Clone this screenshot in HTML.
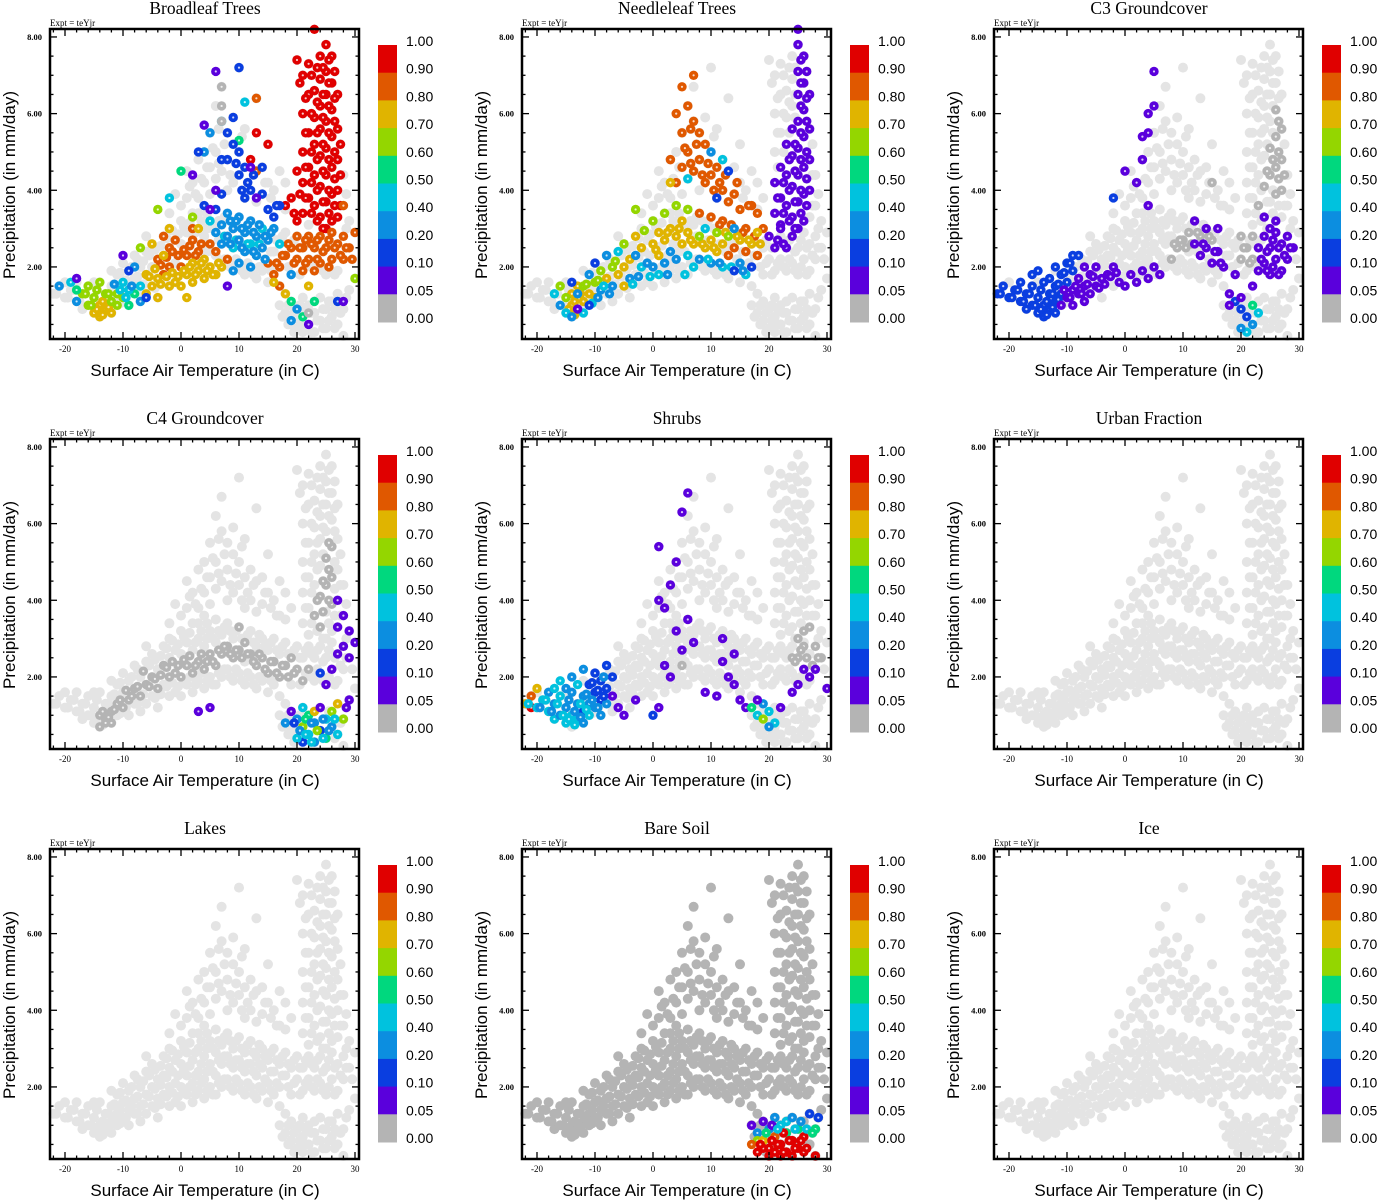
<!DOCTYPE html>
<html><head><meta charset="utf-8"><style>html,body{margin:0;padding:0;background:#fff}svg{display:block}</style></head>
<body>
<svg id="fig" xmlns="http://www.w3.org/2000/svg" width="1378" height="1200" viewBox="0 0 1378 1200"></svg>
<script>
const titles=["Broadleaf Trees","Needleleaf Trees","C3 Groundcover","C4 Groundcover","Shrubs","Urban Fraction","Lakes","Bare Soil","Ice"];
const xTicks=[-20,-10,0,10,20,30];
const yTicks=[2,4,6,8];
const yTickLabels=["2.00","4.00","6.00","8.00"];
const cbLabels=["1.00","0.90","0.80","0.70","0.60","0.50","0.40","0.20","0.10","0.05","0.00"];
const binColors=["#b4b4b4","#5a00dc","#0a3ee0","#0c8ee0","#00c2de","#00d87e","#94d600","#e0b400","#e05800","#e00000"];
const basePoints=[[-22,1.3],[-21,1.5],[-20,1.2],[-19,1.4],[-18,1.6],[-18,1.1],[-17,1.3],[-17,0.9],[-16,1.5],[-16,1.0],[-15,1.2],[-15,0.8],[-14,1.6],[-14,1.0],[-14,0.7],[-13,1.3],[-13,0.9],[-12,1.5],[-12,1.1],[-12,0.8],[-11,1.8],[-11,1.3],[-11,1.0],[-10,2.1],[-10,1.6],[-10,1.2],[-9,1.9],[-9,1.4],[-9,1.0],[-8,2.3],[-8,1.7],[-8,1.3],[-7,2.0],[-7,1.5],[-7,1.1],[-6,2.4],[-6,1.8],[-6,1.3],[-5,2.6],[-5,2.0],[-5,1.5],[-4,2.2],[-4,1.7],[-4,1.2],[-3,2.8],[-3,2.3],[-3,1.8],[-2,3.0],[-2,2.5],[-2,2.0],[-2,1.5],[-1,2.7],[-1,2.1],[-1,1.6],[0,3.2],[0,2.6],[0,2.0],[0,1.5],[1,2.9],[1,2.3],[1,1.8],[2,3.4],[2,2.7],[2,2.1],[2,1.6],[3,3.0],[3,2.4],[3,1.9],[4,3.6],[4,2.8],[4,2.2],[4,1.7],[5,3.2],[5,2.6],[5,2.0],[6,3.5],[6,2.9],[6,2.3],[6,1.8],[7,3.1],[7,2.6],[7,2.0],[8,3.4],[8,2.8],[8,2.2],[9,3.0],[9,2.5],[9,1.9],[10,3.3],[10,2.7],[10,2.1],[11,2.9],[11,2.4],[11,1.8],[12,3.2],[12,2.6],[12,2.0],[13,2.8],[13,2.3],[13,1.7],[14,3.0],[14,2.5],[14,1.9],[15,2.7],[15,2.1],[15,1.6],[16,3.0],[16,2.4],[16,1.8],[17,2.6],[17,2.0],[17,1.5],[18,2.9],[18,2.3],[18,1.3],[19,2.5],[19,1.8],[20,2.8],[20,2.2],[21,2.5],[21,1.9],[22,2.8],[22,2.2],[23,2.5],[23,1.9],[24,2.8],[24,2.1],[25,2.5],[25,1.8],[26,2.9],[26,2.2],[27,2.6],[27,1.9],[28,2.8],[28,2.2],[29,2.5],[30,2.9],[30,1.7],
[1,4.5],[1,3.8],[2,4.2],[3,4.8],[3,3.8],[4,5.0],[4,4.2],[5,5.5],[5,4.6],[5,3.9],[6,6.2],[6,5.0],[6,4.3],[7,6.7],[7,5.8],[7,4.5],[8,5.5],[8,4.8],[8,4.0],[9,5.9],[9,5.2],[9,4.2],[10,7.2],[10,5.0],[10,4.4],[11,5.6],[11,4.6],[11,3.8],[12,4.8],[12,4.0],[13,6.4],[13,4.5],[13,3.7],[14,4.6],[14,3.9],[15,5.2],[15,4.2],[16,4.0],[17,4.5],[17,3.6],[18,4.2],[18,3.5],[19,3.8],
[20,7.4],[21,7.0],[21,6.0],[21,5.0],[21,4.2],[21,3.4],[22,7.3],[22,6.5],[22,5.5],[22,4.6],[22,3.8],[22,3.1],[23,6.6],[23,5.9],[23,5.2],[23,4.4],[23,3.6],[24,7.5],[24,6.9],[24,6.2],[24,5.6],[24,4.9],[24,4.1],[24,3.3],[25,7.8],[25,7.1],[25,6.5],[25,5.8],[25,5.1],[25,4.4],[25,3.7],[25,3.0],[26,7.5],[26,6.8],[26,6.1],[26,5.4],[26,4.6],[26,3.9],[26,3.2],[27,6.5],[27,5.6],[27,4.8],[27,4.0],[27,3.3],[28,4.4],[28,3.6],[29,3.2],
[17,1.0],[18,0.8],[19,1.1],[19,0.6],[20,0.9],[20,0.4],[21,1.2],[21,0.7],[21,0.3],[22,1.0],[22,0.5],[23,1.1],[23,0.8],[23,0.3],[24,1.2],[24,0.6],[25,0.9],[25,0.4],[26,1.1],[26,0.7],[27,1.3],[27,0.5],[28,0.9],[28,0.2],[29,1.4],[-20,1.6],[-15,1.6],[-12,1.9],[-6,2.8],[0,3.6],[3,3.4],[-1,3.9],[-2,3.4]];
const basePoints2=[[-21.5,1.3],[-19.5,1.2],[-18.5,1.4],[-17.5,1.1],[-16.5,1.3],[-15.5,1.0],[-14.5,1.4],[-14.5,0.9],[-13.5,1.1],[-13.5,0.75],[-12.5,1.3],[-12.5,0.95],[-11.5,1.55],[-11.5,1.15],[-10.5,1.85],[-10.5,1.4],[-10.5,1.05],[-9.5,1.65],[-9.5,1.2],[-8.5,2.0],[-8.5,1.5],[-7.5,2.2],[-7.5,1.75],[-7.5,1.3],[-6.5,2.15],[-6.5,1.55],[-5.5,2.3],[-5.5,1.75],[-4.5,2.45],[-4.5,1.95],[-4.5,1.45],[-3.5,2.55],[-3.5,2.05],[-3.5,1.55],[-2.5,2.75],[-2.5,2.25],[-2.5,1.75],[-1.5,2.95],[-1.5,2.4],[-1.5,1.85],[-0.5,2.85],[-0.5,2.3],[-0.5,1.75],[0.5,3.05],[0.5,2.45],[0.5,1.9],[1.5,3.15],[1.5,2.55],[1.5,2.0],[2.5,2.9],[2.5,2.3],[2.5,1.8],[3.5,3.2],[3.5,2.6],[3.5,2.1],[4.5,3.4],[4.5,3.0],[4.5,2.4],[4.5,1.9],[5.5,3.0],[5.5,2.4],[5.5,1.8],[6.5,3.2],[6.5,2.7],[6.5,2.1],[7.5,3.3],[7.5,2.8],[7.5,2.2],[8.5,3.2],[8.5,2.6],[8.5,2.0],[9.5,3.2],[9.5,2.7],[9.5,2.2],[10.5,3.0],[10.5,2.5],[10.5,1.9],[11.5,3.1],[11.5,2.6],[11.5,2.1],[12.5,2.9],[12.5,2.4],[12.5,1.8],[13.5,3.1],[13.5,2.6],[13.5,2.0],[14.5,2.8],[14.5,2.2],[15.5,2.9],[15.5,2.4],[15.5,1.9],[16.5,2.7],[16.5,2.1],[17.5,2.8],[17.5,2.3],[18.5,2.6],[18.5,2.0],[19.5,2.7],[19.5,2.1],[20.5,2.5],[20.5,1.8],[21.5,2.7],[21.5,2.1],[22.5,2.6],[22.5,2.0],[23.5,2.7],[23.5,2.2],[24.5,2.4],[24.5,1.9],[25.5,2.7],[25.5,2.0],[26.5,2.5],[26.5,1.8],[27.5,2.3],[28.5,2.5],[29.5,2.2],
[2.5,3.9],[4.5,4.6],[6.5,4.7],[7.5,5.2],[8.5,4.4],[9.5,4.7],[10.5,4.0],[11.5,4.2],[12.5,4.4],[14.5,4.2],[16.5,3.6],[5.5,5.1],[6.5,5.6],[10.5,5.4],[3.5,4.3],[1.5,4.1],[15.5,3.8],
[20.5,6.8],[21.5,6.4],[21.5,5.5],[21.5,4.6],[21.5,3.8],[22.5,7.0],[22.5,6.0],[22.5,5.0],[22.5,4.2],[22.5,3.4],[23.5,7.2],[23.5,6.3],[23.5,5.5],[23.5,4.8],[23.5,4.0],[23.5,3.2],[24.5,7.2],[24.5,6.5],[24.5,5.9],[24.5,5.2],[24.5,4.5],[24.5,3.7],[24.5,3.0],[25.5,7.4],[25.5,6.8],[25.5,6.2],[25.5,5.5],[25.5,4.8],[25.5,4.0],[25.5,3.4],[26.5,7.1],[26.5,6.4],[26.5,5.8],[26.5,5.0],[26.5,4.3],[26.5,3.6],[27.5,5.2],[27.5,4.4],[27.5,3.6],[28.5,3.9],[28.5,3.0],
[17.5,0.7],[18.5,1.0],[18.5,0.5],[19.5,0.8],[19.5,0.3],[20.5,1.0],[20.5,0.6],[21.5,0.9],[21.5,0.5],[22.5,0.8],[22.5,0.3],[23.5,0.6],[24.5,0.9],[24.5,0.4],[25.5,1.1],[25.5,0.6],[26.5,0.9],[26.5,0.4],[27.5,0.8],[28.5,1.2]];
const broadleaf=[[20,7.4,9],[21,7.0,9],[21,6.0,9],[21,5.0,9],[21,4.2,9],[21,3.4,9],[22,7.3,9],[22,6.5,9],[22,5.5,9],[22,4.6,9],[22,3.8,9],[23,6.6,9],[23,5.9,9],[23,5.2,9],[23,4.4,9],[23,3.6,9],[24,7.5,9],[24,6.9,9],[24,6.2,9],[24,5.6,9],[24,4.9,9],[24,4.1,9],[24,3.3,9],[25,7.8,9],[25,7.1,9],[25,6.5,9],[25,5.8,9],[25,5.1,9],[25,4.4,9],[25,3.7,9],[25,3.0,9],[26,7.5,9],[26,6.8,9],[26,6.1,9],[26,5.4,9],[26,4.6,9],[26,3.9,9],[26,3.2,9],[27,6.5,9],[27,5.6,9],[27,4.8,9],[27,4.0,9],[27,3.3,9],[20,4.5,9],[19,3.8,9],[20,3.2,9],[18,3.6,9],[23,8.2,9],[13,5.5,9],[15,5.2,9],[12,4.8,9],
[21.5,6.4,9],[21.5,5.5,9],[21.5,4.6,9],[21.5,3.8,9],[22.5,7.0,9],[22.5,6.0,9],[22.5,5.0,9],[22.5,4.2,9],[22.5,3.4,9],[23.5,7.2,9],[23.5,6.3,9],[23.5,5.5,9],[23.5,4.8,9],[23.5,4.0,9],[23.5,3.2,9],[24.5,7.2,9],[24.5,6.5,9],[24.5,5.9,9],[24.5,5.2,9],[24.5,4.5,9],[24.5,3.7,9],[24.5,3.0,9],[25.5,7.4,9],[25.5,6.8,9],[25.5,6.2,9],[25.5,5.5,9],[25.5,4.8,9],[25.5,4.0,9],[25.5,3.4,9],[26.5,7.1,9],[26.5,6.4,9],[26.5,5.8,9],[26.5,5.0,9],[26.5,4.3,9],[26.5,3.6,9],[27.5,5.2,9],[27.5,4.4,9],[27.5,3.6,9],[20.5,6.8,9],[20.5,3.9,9],[19.5,3.4,9],
[1,2.3,8],[2,2.7,8],[3,2.4,8],[0,2.0,8],[-3,1.8,8],[-2,2.0,8],[-4,2.2,8],[5,2.6,8],[6,2.4,8],[8,2.2,8],[15,2.1,8],[16,1.8,8],[17,2.0,8],[18,2.3,8],[19,2.5,8],[20,2.8,8],[20,2.2,8],[21,2.5,8],[21,1.9,8],[22,2.8,8],[22,2.2,8],[23,2.5,8],[23,1.9,8],[24,2.8,8],[24,2.1,8],[25,2.5,8],[26,2.9,8],[26,2.2,8],[27,2.6,8],[28,2.8,8],[28,2.2,8],[29,2.5,8],[30,2.9,8],[17,1.5,8],[13,4.5,8],[2,3.0,8],[-1,2.7,8],[-3,2.8,8],[-2,2.5,8],[13,6.4,8],[28,3.6,8],
[-1.5,2.4,8],[-0.5,2.3,8],[0.5,2.45,8],[1.5,2.55,8],[2.5,2.3,8],[3.5,2.6,8],[-2.5,2.25,8],[-3.5,2.05,8],[16.5,2.1,8],[17.5,2.3,8],[18.5,2.6,8],[19.5,2.1,8],[20.5,2.5,8],[21.5,2.1,8],[22.5,2.6,8],[23.5,2.2,8],[24.5,2.4,8],[25.5,2.0,8],[26.5,2.5,8],[27.5,2.3,8],[28.5,2.5,8],[29.5,2.2,8],[21.5,2.7,8],[23.5,2.7,8],[25.5,2.7,8],
[-14,1.0,7],[-13,0.9,7],[-12,0.8,7],[-14,0.7,7],[-15,0.8,7],[-6,1.8,7],[-5,1.5,7],[-4,1.7,7],[-3,2.3,7],[-1,1.6,7],[0,1.5,7],[1,1.8,7],[2,2.1,7],[2,1.6,7],[3,1.9,7],[4,1.7,7],[4,2.2,7],[5,2.0,7],[6,1.8,7],[7,2.0,7],[-5,2.6,7],[-2,1.5,7],[-6,1.3,7],[18,1.3,7],[16,1.6,7],[22,1.5,7],[1,1.2,7],[-4,1.2,7],[-2,3.0,7],[3,3.0,7],
[-13.5,1.1,7],[-13.5,0.75,7],[-14.5,0.9,7],[-12.5,0.95,7],[-4.5,1.95,7],[-3.5,1.55,7],[-2.5,1.75,7],[-1.5,1.85,7],[-0.5,1.75,7],[0.5,1.9,7],[1.5,2.0,7],[2.5,1.8,7],[3.5,2.1,7],[4.5,1.9,7],[5.5,1.8,7],[6.5,2.1,7],[-5.5,1.75,7],
[-16,1.5,6],[-15,1.2,6],[-14,1.6,6],[-13,1.3,6],[-12,1.1,6],[-11,1.3,6],[-17,1.3,6],[-16,1.0,6],[-11,1.0,6],[-7,2.5,6],[-10,1.2,6],[-4,3.5,6],[2,3.3,6],[30,1.7,6],[-14.5,1.4,6],[-15.5,1.0,6],[-12.5,1.3,6],[-16.5,1.3,6],
[-18,1.4,5],[-9,1.0,5],[-8,1.3,5],[0,4.5,5],[10,5.3,5],[19,1.1,5],[21,0.7,5],[23,1.1,5],
[-19,1.6,4],[-10,1.6,4],[-9,1.4,4],[-7,1.5,4],[-2,3.8,4],[7,5.8,4],[11,6.3,4],[9,2.5,4],[12,2.6,4],[14,3.0,4],[5,3.2,4],[17,2.6,4],[7.5,2.8,4],[9.5,2.7,4],[11.5,2.6,4],[13.5,2.6,4],[-10.5,1.4,4],[-9.5,1.2,4],
[-21,1.5,3],[-18,1.1,3],[-8,2.0,3],[-7,1.1,3],[4,5.0,3],[5,5.5,3],[8,3.4,3],[8,2.8,3],[9,3.0,3],[10,3.3,3],[10,2.7,3],[11,2.9,3],[12,3.2,3],[13,2.8,3],[14,2.5,3],[15,2.7,3],[16,3.0,3],[10,2.1,3],[11,2.4,3],[6,2.9,3],[7,3.1,3],[9,1.9,3],[12,2.0,3],[13,2.3,3],[19,1.8,3],[20,0.9,3],[19,0.6,3],[7,2.6,3],[8.5,3.2,3],[9.5,3.2,3],[10.5,3.0,3],[11.5,3.1,3],[12.5,2.9,3],[13.5,3.1,3],[14.5,2.8,3],[15.5,2.9,3],[8.5,2.6,3],[10.5,2.5,3],[12.5,2.4,3],[14.5,2.2,3],[-11.5,1.55,3],[-8.5,1.5,3],
[-9,1.9,2],[-6,1.2,2],[4,3.6,2],[6,3.5,2],[7,3.9,2],[8,4.8,2],[8,5.5,2],[9,5.2,2],[9,5.9,2],[10,7.2,2],[10,5.0,2],[10,4.4,2],[11,4.6,2],[11,3.8,2],[12,4.0,2],[14,3.9,2],[14,4.6,2],[15,3.5,2],[16,3.3,2],[17,3.6,2],[3,5.0,2],[7,4.8,2],[27,1.1,2],[9.5,4.7,2],[10.5,4.0,2],[11.5,4.2,2],[12.5,4.4,2],[16.5,3.6,2],
[-18,1.7,1],[-10,2.3,1],[4,5.7,1],[6,7.1,1],[6,4.0,1],[2,4.4,1],[5,3.5,1],[12,4.6,1],[13,3.8,1],[22,0.5,1],[28,1.1,1],[8,1.5,1],
[7,6.7,0],[7,6.2,0],[7,5.8,0],[22,0.8,0]];
const needleleaf=[[21,4.2,1],[21,3.4,1],[22,4.6,1],[22,3.8,1],[22,3.1,1],[23,4.4,1],[23,3.6,1],[24,4.9,1],[24,4.1,1],[24,3.3,1],[25,7.8,1],[25,7.1,1],[25,6.5,1],[25,5.8,1],[25,5.1,1],[25,4.4,1],[25,3.7,1],[25,3.0,1],[26,7.5,1],[26,6.8,1],[26,6.1,1],[26,5.4,1],[26,4.6,1],[26,3.9,1],[26,3.2,1],[27,6.5,1],[27,5.6,1],[27,4.8,1],[27,4.0,1],[24,5.6,1],[23,5.2,1],[22,3.0,1],[20,2.8,1],[21,2.5,1],[23,2.5,1],[24,2.8,1],[25,8.2,1],
[22.5,4.2,1],[22.5,3.4,1],[23.5,4.8,1],[23.5,4.0,1],[23.5,3.2,1],[24.5,5.2,1],[24.5,4.5,1],[24.5,3.7,1],[24.5,3.0,1],[25.5,7.4,1],[25.5,6.8,1],[25.5,6.2,1],[25.5,5.5,1],[25.5,4.8,1],[25.5,4.0,1],[25.5,3.4,1],[26.5,7.1,1],[26.5,6.4,1],[26.5,5.8,1],[26.5,5.0,1],[26.5,4.3,1],[26.5,3.6,1],[21.5,3.8,1],[21.5,2.7,1],[22.5,2.6,1],
[5,6.7,8],[7,7.0,8],[6,6.2,8],[4,6.0,8],[5,5.5,8],[7,5.8,8],[8,5.5,8],[6,5.0,8],[7,4.5,8],[8,4.8,8],[9,5.2,8],[3,4.8,8],[4,4.2,8],[5,4.6,8],[9,4.2,8],[10,4.4,8],[11,4.6,8],[12,4.0,8],[13,3.7,8],[14,3.9,8],[15,3.5,8],[16,3.0,8],[17,3.6,8],[18,3.4,8],[19,3.0,8],[12,3.2,8],[10,3.3,8],[14,2.5,8],[8,3.4,8],[16,2.4,8],[18,2.3,8],[13,2.3,8],[6.5,5.6,8],[5.5,5.1,8],[7.5,5.2,8],[6.5,4.7,8],[8.5,4.4,8],[9.5,4.7,8],[10.5,4.0,8],[11.5,4.2,8],[12.5,4.4,8],[14.5,4.2,8],[16.5,3.6,8],[15.5,2.9,8],[17.5,2.8,8],[13.5,3.1,8],[11.5,3.1,8],
[-14,1.0,7],[-13,0.9,7],[-12,1.1,7],[-14,1.3,7],[-13,1.5,7],[-11,1.3,7],[-10,1.2,7],[-8,1.7,7],[-6,1.8,7],[-5,2.0,7],[-4,2.2,7],[-3,2.8,7],[-2,2.5,7],[0,2.6,7],[1,2.9,7],[2,2.7,7],[3,3.0,7],[4,2.8,7],[5,2.6,7],[6,2.9,7],[7,2.6,7],[9,2.5,7],[10,2.7,7],[11,2.4,7],[12,2.6,7],[15,2.7,7],[17,2.6,7],[18,2.9,7],[-5,1.5,7],[1,2.3,7],[3,4.2,7],[5,3.2,7],[-13.5,1.1,7],[-12.5,1.3,7],[-14.5,0.9,7],[-13.5,0.75,7],[0.5,2.45,7],[2.5,2.9,7],[4.5,3.0,7],[6.5,2.7,7],[8.5,2.6,7],[10.5,2.5,7],[12.5,2.9,7],[14.5,2.8,7],[16.5,2.7,7],[18.5,2.6,7],
[-12,1.5,6],[-10,1.6,6],[-9,1.9,6],[-7,2.0,6],[-5,2.6,6],[-3,3.5,6],[0,3.2,6],[2,3.4,6],[4,3.6,6],[6,3.5,6],[8,2.8,6],[11,2.9,6],[13,2.8,6],[-15,1.2,6],[-16,1.5,6],[-11.5,1.55,6],[-9.5,1.65,6],[-6.5,2.15,6],[-1.5,2.95,6],
[-15,0.8,4],[-13,1.3,3],[-12,0.8,4],[-11,1.8,3],[-9,1.4,3],[-8,2.3,3],[-7,1.5,3],[-6,2.4,4],[-4,1.7,3],[-3,2.3,3],[-2,2.0,4],[-1,2.1,3],[0,2.0,3],[1,1.8,4],[2,2.1,3],[3,2.4,3],[4,2.2,3],[6,2.3,4],[7,2.0,4],[8,2.2,3],[9,3.0,4],[10,2.1,3],[12,2.0,4],[14,3.0,3],[15,2.1,3],[16,1.8,4],[-14,0.7,3],[-16,1.0,3],[6,4.3,4],[10,5.0,3],[12,4.8,4],[-17,1.3,4],[-10.5,1.05,4],[-9.5,1.2,3],[-8.5,1.5,4],[-7.5,1.3,3],[-3.5,1.55,4],[-2.5,1.75,3],[-0.5,1.75,4],[2.5,1.8,3],[5.5,1.8,4],[9.5,2.2,4],[11.5,2.1,3],[13.5,2.0,4],[15.5,1.9,3],
[-14,1.6,2],[-11,1.0,2],[-10,2.1,2],[13,4.5,2],[11,3.8,2],[-13,0.9,1],[17,2.0,2],[14,1.9,2]];
const c3=[[10,2.7,0],[9,2.5,0],[11,2.9,0],[8,2.2,0],[13,2.8,0],[15,2.7,0],[20,2.8,0],[20,2.2,0],[21,2.5,0],[22,2.8,0],[22,2.2,0],[26,3.9,0],[26,4.6,0],[27,4.0,0],[27,4.8,0],[26,5.4,0],[27,5.6,0],[26,6.1,0],[25,5.1,0],[25,4.4,0],[24,4.1,0],[23,3.6,0],[15,4.2,0],[9.5,2.7,0],[10.5,2.5,0],[11.5,2.6,0],[8.5,2.6,0],[12.5,2.9,0],[14.5,2.8,0],[20.5,2.5,0],[21.5,2.1,0],[26.5,5.0,0],[26.5,4.3,0],[25.5,4.8,0],[26.5,5.8,0],[27.5,4.4,0],[24.5,4.5,0],
[-22,1.3,2],[-21,1.5,2],[-20,1.2,2],[-19,1.4,2],[-18,1.6,2],[-18,1.1,2],[-17,1.3,2],[-17,0.9,2],[-16,1.5,2],[-16,1.0,2],[-15,1.2,2],[-15,0.8,2],[-14,1.6,2],[-14,1.0,2],[-14,0.7,2],[-13,1.3,2],[-13,0.9,2],[-12,1.5,2],[-12,1.1,2],[-12,0.8,2],[-11,1.8,2],[-11,1.3,2],[-10,2.1,2],[-10,1.6,2],[-9,1.9,2],[-9,2.3,2],[-12,2.0,2],[-8,2.3,2],[-15,1.9,2],[-2,3.8,2],[20,0.9,2],[21,0.7,2],[19,1.1,2],
[-21.5,1.3,2],[-19.5,1.2,2],[-18.5,1.4,2],[-17.5,1.1,2],[-16.5,1.3,2],[-15.5,1.0,2],[-14.5,1.4,2],[-14.5,0.9,2],[-13.5,1.1,2],[-13.5,0.75,2],[-12.5,1.3,2],[-12.5,0.95,2],[-11.5,1.55,2],[-11.5,1.15,2],[-10.5,1.85,2],[-13,1.7,2],[-16,1.8,2],[-9.5,2.1,2],
[-11,1.0,1],[-10,1.2,1],[-9,1.4,1],[-9,1.0,1],[-8,1.7,1],[-8,1.3,1],[-7,2.0,1],[-7,1.5,1],[-7,1.1,1],[-6,1.8,1],[-6,1.3,1],[-5,2.0,1],[-5,1.5,1],[-4,1.7,1],[-3,1.8,1],[-2,2.0,1],[-1,1.6,1],[0,1.5,1],[1,1.8,1],[2,1.6,1],[3,1.9,1],[4,1.7,1],[5,2.0,1],[6,1.8,1],[4,3.6,1],[0,4.5,1],[2,4.2,1],[3,4.8,1],[4,5.5,1],[5,6.2,1],[4,6.0,1],[5,7.1,1],[3,5.4,1],[12,3.2,1],[12,2.6,1],[13,2.3,1],[14,2.5,1],[15,2.1,1],[16,2.4,1],[17,2.0,1],[18,1.3,1],[19,1.8,1],[23,2.5,1],[23,1.9,1],[24,2.8,1],[24,2.1,1],[25,2.5,1],[25,1.8,1],[26,2.9,1],[26,2.2,1],[27,2.6,1],[27,1.9,1],[28,2.8,1],[28,2.2,1],[29,2.5,1],[25,3.0,1],[26,3.2,1],[24,3.3,1],[14,3.0,1],[16,3.0,1],[22,1.5,1],[20,1.2,1],[18,1.0,1],
[-10.5,1.4,1],[-9.5,1.2,1],[-8.5,1.5,1],[-7.5,1.3,1],[-6.5,1.55,1],[-5.5,1.75,1],[-4.5,1.45,1],[-3.5,1.55,1],[-2.5,1.75,1],[-1.5,1.85,1],[23.5,2.2,1],[24.5,2.4,1],[25.5,2.0,1],[26.5,2.5,1],[27.5,2.3,1],[28.5,2.5,1],[25.5,2.7,1],[24.5,1.9,1],[26.5,1.8,1],[13.5,2.6,1],[15.5,2.4,1],[16.5,2.1,1],
[21,0.3,4],[22,0.5,3],[23,0.8,4],[20,0.4,3],[22,1.0,5]];
const c4=[[-14,1.0,0],[-13,0.9,0],[-12,1.1,0],[-11,1.3,0],[-10,1.2,0],[-9,1.4,0],[-8,1.7,0],[-7,1.5,0],[-6,1.8,0],[-5,2.0,0],[-4,1.7,0],[-3,2.3,0],[-2,2.0,0],[-1,2.1,0],[0,2.0,0],[1,2.3,0],[2,2.1,0],[3,2.4,0],[4,2.2,0],[5,2.6,0],[6,2.3,0],[7,2.6,0],[8,2.8,0],[9,2.5,0],[10,2.7,0],[10,3.3,0],[11,2.9,0],[12,2.6,0],[13,2.3,0],[14,2.5,0],[15,2.1,0],[16,2.4,0],[17,2.0,0],[18,2.3,0],[19,2.5,0],[20,2.2,0],[21,1.9,0],[24,4.1,0],[25,4.4,0],[25,5.1,0],[26,4.6,0],[26,5.4,0],[26,3.9,0],[24,3.3,0],[23,3.6,0],[22,2.2,0],[-13,0.8,0],[-12,0.8,0],[-14,0.7,0],
[-13.5,1.1,0],[-12.5,0.95,0],[-11.5,1.15,0],[-10.5,1.4,0],[-9.5,1.65,0],[-8.5,1.5,0],[-7.5,1.75,0],[-6.5,2.15,0],[-5.5,1.75,0],[-4.5,1.95,0],[-3.5,2.05,0],[-2.5,2.25,0],[-1.5,2.4,0],[-0.5,2.3,0],[0.5,2.45,0],[1.5,2.55,0],[2.5,2.3,0],[3.5,2.6,0],[4.5,2.4,0],[5.5,2.4,0],[6.5,2.7,0],[7.5,2.8,0],[8.5,2.6,0],[9.5,2.7,0],[10.5,2.5,0],[11.5,2.6,0],[12.5,2.4,0],[13.5,2.6,0],[14.5,2.2,0],[15.5,2.4,0],[16.5,2.1,0],[17.5,2.3,0],[18.5,2.0,0],[19.5,2.1,0],[24.5,4.5,0],[25.5,4.8,0],[25.5,4.0,0],[24.5,3.7,0],[25.5,5.5,0],[23.5,4.0,0],
[27,4.0,1],[28,3.6,1],[27,3.3,1],[28,2.8,1],[29,2.5,1],[27,2.6,1],[26,2.2,1],[30,2.9,1],[25,1.8,1],[24,2.1,2],[21,1.2,4],[20,0.9,3],[21,0.7,6],[22,1.0,5],[22,0.5,4],[23,1.1,7],[23,0.8,3],[23,0.3,3],[24,1.2,1],[24,0.6,2],[25,0.9,4],[25,0.4,5],[26,1.1,6],[26,0.7,3],[27,1.3,7],[27,0.5,4],[28,0.9,6],[21,0.3,2],[20,0.4,4],[19,1.1,1],[18,0.8,3],[5,1.2,1],[3,1.1,1],[29,1.4,1],[29,3.2,1],
[20.5,0.6,3],[21.5,0.9,5],[21.5,0.5,4],[22.5,0.8,3],[22.5,0.3,4],[23.5,0.6,6],[24.5,0.9,3],[24.5,0.4,4],[25.5,0.6,3],[26.5,0.9,4],[19.5,0.8,2],[28.5,1.2,1]];
const shrubs=[[25,3.0,0],[26,3.2,0],[27,3.3,0],[28,2.8,0],[26,2.8,0],[24,2.5,0],[29,2.5,0],[25,2.5,0],[5,2.3,0],[25.5,2.7,0],[26.5,2.5,0],[27.5,2.3,0],[28.5,2.5,0],[24.5,2.4,0],
[-22,1.3,7],[-21,1.5,8],[-20,1.7,7],[-21,1.2,9],[-20,1.2,4],[-19,1.4,4],[-18,1.6,3],[-18,1.1,4],[-17,1.3,3],[-17,0.9,4],[-16,1.5,4],[-16,1.0,3],[-15,1.2,3],[-15,0.8,4],[-14,1.6,3],[-14,1.0,4],[-13,1.3,3],[-13,0.9,4],[-12,1.5,3],[-12,1.1,2],[-12,0.8,3],[-11,1.8,2],[-11,1.3,3],[-11,1.0,4],[-10,2.1,2],[-10,1.6,2],[-10,1.2,3],[-9,1.9,2],[-9,1.4,2],[-9,1.0,3],[-8,2.3,2],[-8,1.7,2],[-8,1.3,3],[-7,1.5,1],[-14,2.0,3],[-12,2.2,3],[-16,1.9,4],[-7,2.0,2],[-6,1.2,1],[-5,1.0,1],[0,1.0,2],[1,1.2,1],[-3,1.4,1],
[-21.5,1.3,4],[-19.5,1.2,3],[-18.5,1.4,4],[-17.5,1.1,3],[-16.5,1.3,4],[-15.5,1.0,4],[-14.5,1.4,3],[-14.5,0.9,4],[-13.5,1.1,3],[-13.5,0.75,4],[-12.5,1.3,4],[-12.5,0.95,3],[-11.5,1.55,3],[-11.5,1.15,4],[-10.5,1.85,2],[-10.5,1.4,3],[-9.5,1.65,2],[-9.5,1.2,3],[-8.5,2.0,3],[-8.5,1.5,2],[-15,1.7,3],[-17,1.7,4],[-13,1.8,4],
[1,4.0,1],[2,3.8,1],[3,4.4,1],[1,5.4,1],[4,5.0,1],[5,6.3,1],[6,6.8,1],[4,3.2,1],[2,2.3,1],[3,2.0,1],[5,2.7,1],[6,3.5,1],[7,2.9,1],[12,3.0,1],[12,2.4,1],[13,2.0,1],[14,2.6,1],[14,1.8,1],[15,1.4,1],[11,1.5,1],[9,1.6,1],[16,1.2,1],[17,1.2,5],[18,1.0,4],[19,0.9,6],[20,1.1,4],[19,1.3,3],[21,0.8,4],[20,0.7,3],[18,1.4,1],[24,1.6,1],[25,1.8,1],[26,2.2,1],[27,2.0,1],[28,2.2,1],[30,1.7,1],[22,1.2,1]];
const baresoil=[[17,1.0,1],[18,0.8,3],[18,0.6,6],[19,1.1,1],[19,0.6,7],[19,0.4,9],[20,0.9,3],[20,0.4,9],[20,0.2,9],[21,1.2,3],[21,0.7,8],[21,0.3,9],[22,1.0,4],[22,0.5,9],[22,0.2,9],[23,1.1,4],[23,0.8,5],[23,0.3,9],[24,1.2,3],[24,0.6,9],[24,0.2,9],[25,0.9,5],[25,0.4,9],[26,0.7,9],[26,0.3,9],[27,1.3,2],[28,0.9,5],[28,0.2,9],[18,0.3,9],[17,0.5,8],
[19.5,0.8,5],[20.5,0.6,9],[21.5,0.5,9],[22.5,0.8,9],[22.5,0.3,9],[23.5,0.6,9],[24.5,0.4,9],[25.5,0.6,9],[26.5,0.4,9],[18.5,0.5,9],[20.5,1.0,1],[21.5,0.9,4],[24.5,0.9,4],[25.5,1.1,3],[26.5,0.9,4],[27.5,0.8,5],[28.5,1.2,2]];
const empty=[];
const panelData=[broadleaf,needleleaf,c3,c4,shrubs,empty,empty,baresoil,empty];
const baseDark=[false,false,false,false,false,false,false,true,false];

const NS="http://www.w3.org/2000/svg";
const svg=document.getElementById('fig');
function mk(tag,attrs,parent){const e=document.createElementNS(NS,tag);for(const k in attrs)e.setAttribute(k,attrs[k]);(parent||svg).appendChild(e);return e;}
function slug(s){return s.toLowerCase().replace(/[^a-z0-9]+/g,'-').replace(/-$/,'');}

titles.forEach((title,i)=>{
  const ox=(i%3)*472, oy=Math.floor(i/3)*410;
  const xs=t=>ox+181+t*5.8;
  const ys=p=>oy+343.6-p*38.33;
  const g=mk('g',{});
  
  
  const tt=mk('text',{x:ox+205,y:oy+14,'text-anchor':'middle','font-family':'Liberation Serif, serif','font-size':17.5},g);
  tt.textContent=title;
  
  
  const ex=mk('text',{x:ox+50,y:oy+26,'font-family':'Liberation Serif, serif','font-size':9},g);
  ex.textContent='Expt = teYjr';
  
  
  const pts=mk('g',{},g);
  
  
  basePoints.concat(basePoints2).forEach(p=>{
    const c=mk('circle',{cx:xs(p[0]),cy:ys(p[1]),r:5,fill:baseDark[i]?'#b4b4b4':'#e4e4e4'},pts);
    
    
  });
  panelData[i].forEach(p=>{
    const c=mk('circle',{cx:xs(p[0]),cy:ys(p[1]),r:4.7,fill:binColors[p[2]]},pts);
    
    
    mk('circle',{cx:xs(p[0]),cy:ys(p[1]),r:1.1,fill:'#fff','fill-opacity':0.8},pts);
  });
  const fr=mk('rect',{x:ox+50,y:oy+29,width:309,height:310,fill:'none',stroke:'#000','stroke-width':2.5},g);
  
  
  for(let t=-22;t<=30;t+=2){
    const major=t%10===0, L=major?7:3.5, x=xs(t);
    mk('line',{x1:x,y1:oy+339,x2:x,y2:oy+339-L,stroke:'#000','stroke-width':1.3},g);
    mk('line',{x1:x,y1:oy+29,x2:x,y2:oy+29+L,stroke:'#000','stroke-width':1.3},g);
  }
  for(let p=0.5;p<=8.1;p+=0.5){
    const major=Math.abs(p-Math.round(p/2)*2)<0.01, L=major?7:3.5, y=ys(p);
    mk('line',{x1:ox+50,y1:y,x2:ox+50+L,y2:y,stroke:'#000','stroke-width':1.3},g);
    mk('line',{x1:ox+359,y1:y,x2:ox+359-L,y2:y,stroke:'#000','stroke-width':1.3},g);
  }
  xTicks.forEach(t=>{
    const tx=mk('text',{x:xs(t),y:oy+352,'text-anchor':'middle','font-family':'Liberation Serif, serif','font-size':9},g);
    tx.textContent=String(t);
    
    
  });
  yTicks.forEach((p,k)=>{
    const tx=mk('text',{x:ox+42,y:ys(p)+3,'text-anchor':'end','font-family':'Liberation Serif, serif','font-size':8.5,'font-weight':'bold'},g);
    tx.textContent=yTickLabels[k];
    
    
  });
  const xt=mk('text',{x:ox+205,y:oy+376,'text-anchor':'middle','font-family':'Liberation Sans, sans-serif','font-size':17},g);
  xt.textContent='Surface Air Temperature (in C)';
  
  
  const yt=mk('text',{x:0,y:0,'text-anchor':'middle','font-family':'Liberation Sans, sans-serif','font-size':17,transform:`translate(${ox+15},${oy+185}) rotate(-90)`},g);
  yt.textContent='Precipitation (in mm/day)';
  
  
  const cb=mk('g',{},g);
  
  
  const segH=27.7;
  for(let k=0;k<10;k++){
    const r=mk('rect',{x:ox+378,y:oy+45+k*segH,width:19,height:segH+0.5,fill:binColors[9-k]},cb);
    
    
  }
  cbLabels.forEach((l,k)=>{
    const tx=mk('text',{x:ox+406,y:oy+46+k*segH,'font-family':'Liberation Sans, sans-serif','font-size':14},cb);
    tx.textContent=l;
    
    
  });
});
</script>
</body></html>
